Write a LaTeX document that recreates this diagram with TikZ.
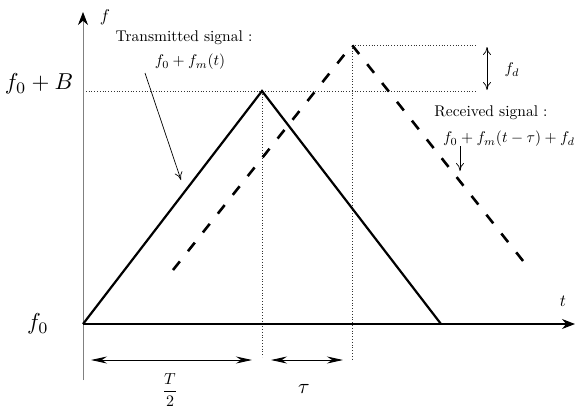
\documentclass[tikz,border=0pt]{standalone}
\usetikzlibrary{arrows.meta}
\begin{document}
\begin{tikzpicture}[x=1pt,y=-1pt,
  annot/.style={scale=1.55, inner sep=0pt},
  biglab/.style={scale=2.3, inner sep=0pt},
  axlab/.style={scale=1.7, inner sep=0pt},
  sig/.style={line width=2.2pt, line join=miter},
  guide/.style={dotted, line width=0.8pt, black!80},
  dim/.style={line width=0.9pt, {Stealth[length=16pt,width=7pt]}-{Stealth[length=16pt,width=7pt]}},
  pointer/.style={line width=0.7pt, -{To[length=8pt,width=8pt]}},
]
\useasboundingbox (0,0) rectangle (575,408);
% key points
\coordinate (O) at (83,324);
\coordinate (Ytop) at (83,12);
\coordinate (Ybot) at (83,380);
\coordinate (Xend) at (575,324);
\coordinate (Tpeak) at (262,91);
\coordinate (Tend) at (441,324);
\coordinate (Rstart) at (173,270);
\coordinate (Rpeak) at (352,45);
\coordinate (Rend) at (531,271);
\coordinate (HB) at (477,91);
\coordinate (HD) at (477,45);
\coordinate (V1) at (262,357);
\coordinate (V2) at (352,360);
% guides
\draw[guide] (83,91) -- (HB);
\draw[guide] (Rpeak) -- (HD);
\draw[guide] (Tpeak) -- (V1);
\draw[guide] (Rpeak) -- (V2);
% axes
\draw[gray, line width=0.8pt, -{Stealth[black,length=13pt,width=10pt]}] (Ybot) -- (Ytop);
\draw[line width=1.2pt, -{Stealth[length=13pt,width=10pt]}] (O) -- (Xend);
% signals
\draw[sig] (O) -- (Tpeak) -- (Tend);
\draw[sig, line width=2.6pt, dash pattern=on 11pt off 13pt] (Rstart) -- (Rpeak) -- (Rend);
% axis labels
\node[axlab] (lf) at (105,17) {$f$};
\node[axlab] (lt) at (563,301) {$t$};
\node[biglab] (lfb) at (39,84) {$f_0+B$};
\node[biglab] (lf0) at (38,324) {$f_0$};
% transmitted annotation
\node[annot] (ts) at (184,38) {Transmitted signal :};
\node[annot] (tf) at (190,62) {$f_0+f_m(t)$};
\coordinate (tsA) at (145,73);
\coordinate (tsB) at (181,180);
\draw[pointer] (tsA) -- (tsB);
% received annotation
\node[annot] (rs) at (491,113) {Received signal :};
\node[annot] (rf) at (509,139) {$f_0+f_m(t-\tau)+f_d$};
\coordinate (rsA) at (460,146);
\coordinate (rsB) at (460,171);
\draw[pointer] (rsA) -- (rsB);
% f_d
\coordinate (fdA) at (487,47);
\coordinate (fdB) at (487,90);
\draw[line width=0.7pt, {To[length=8pt,width=8pt]}-{To[length=8pt,width=8pt]}] (fdA) -- (fdB);
\node[annot] (lfd) at (512,70) {$f_d$};
% dimensions
\coordinate (d1a) at (91,360);
\coordinate (d1b) at (252,360);
\coordinate (d2a) at (271,360);
\coordinate (d2b) at (343,360);
\draw[dim] (d1a) -- (d1b);
\draw[dim] (d2a) -- (d2b);
\node[scale=1.6, inner sep=0pt] (lT) at (170,390) {$\displaystyle\frac{T}{2}$};
\node[scale=2.1, inner sep=0pt] (ltau) at (304,389) {$\tau$};
\end{tikzpicture}
\end{document}
